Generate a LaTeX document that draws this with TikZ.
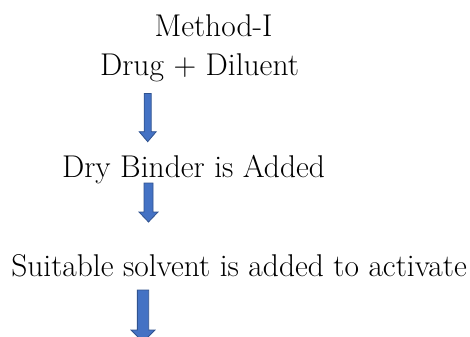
\documentclass[tikz,border=0pt]{standalone}
\usepackage{fontspec}
\definecolor{arrfill}{HTML}{4472C4}
\definecolor{arrline}{HTML}{2F528F}
\newcommand{\blkarrow}[6]{% cx, top, headstart, tip, shaftw, headw
  \filldraw[arrowshape] ({#1-#5/2},#2) -- ({#1+#5/2},#2) -- ({#1+#5/2},#3) -- ({#1+#6/2},#3)
    -- (#1,#4) -- ({#1-#6/2},#3) -- ({#1-#5/2},#3) -- cycle;}
\begin{document}
\begin{tikzpicture}[x=0.75pt,y=-0.75pt,
  lbl/.style={anchor=base,inner sep=0pt,font=\fontsize{23.6}{28}\selectfont},
  arrowshape/.style={fill=arrfill,draw=arrline,line width=0.6pt,line join=miter}]
\useasboundingbox (0,0) rectangle (470,336);
\clip (0,0) rectangle (470,336);
\node[lbl] (m) at (213.5,36) {Method-I};
\node[lbl] (d) at (199.5,75) {Drug + Diluent};
\node[lbl] (b) at (193.5,177) {Dry Binder is Added};
\node[lbl] (s) at (239,276.5) {Suitable solvent is added to activate};
\blkarrow{147.7}{93.5}{131.7}{141.7}{7}{17}
\blkarrow{148.5}{183}{212}{222}{9}{19}
\blkarrow{143}{290}{330}{342}{11.3}{24}
\end{tikzpicture}
\end{document}
